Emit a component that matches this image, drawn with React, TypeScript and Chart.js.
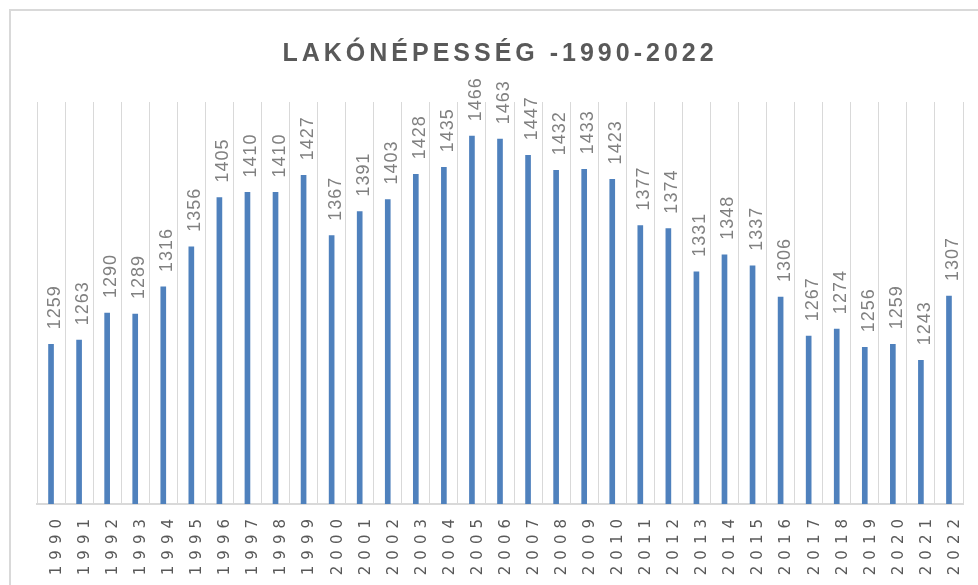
import React, { useEffect, useRef } from "react";
import { Chart, registerables } from "chart.js";

Chart.register(...registerables);

const years = [
  "1990", "1991", "1992", "1993", "1994", "1995", "1996", "1997", "1998", "1999",
  "2000", "2001", "2002", "2003", "2004", "2005", "2006", "2007", "2008", "2009",
  "2010", "2011", "2012", "2013", "2014", "2015", "2016", "2017", "2018", "2019",
  "2020", "2021", "2022",
];
const population = [
  1259, 1263, 1290, 1289, 1316, 1356, 1405, 1410, 1410, 1427,
  1367, 1391, 1403, 1428, 1435, 1466, 1463, 1447, 1432, 1433,
  1423, 1377, 1374, 1331, 1348, 1337, 1306, 1267, 1274, 1256,
  1259, 1243, 1307,
];
const titleText = "LAKÓNÉPESSÉG -1990-2022";

const spacingPlugin = {
  id: "spacingAndLabels",
  beforeDraw(chart: any) {
    chart.ctx.letterSpacing = "4px";
  },
  beforeDatasetsDraw(chart: any) {
    chart.ctx.letterSpacing = "0px";
  },
  afterDatasetsDraw(chart: any) {
    const ctx = chart.ctx;
    const meta = chart.getDatasetMeta(0);
    const data = chart.data.datasets[0].data;
    ctx.save();
    ctx.letterSpacing = "1px";
    ctx.font = "18px 'Liberation Sans', Arial, sans-serif";
    ctx.fillStyle = "#808080";
    ctx.textAlign = "left";
    ctx.textBaseline = "alphabetic";
    meta.data.forEach((bar: any, i: number) => {
      ctx.save();
      ctx.translate(bar.x + 9, bar.y - 15);
      ctx.rotate(-Math.PI / 2);
      ctx.fillText(String(data[i]), 0, 0);
      ctx.restore();
    });
    ctx.restore();
    ctx.letterSpacing = "6px";
  },
  afterDraw(chart: any) {
    chart.ctx.letterSpacing = "0px";
  },
};

export default function App() {
  const canvasRef = useRef<HTMLCanvasElement | null>(null);

  useEffect(() => {
    if (!canvasRef.current) return;
    const chart = new Chart(canvasRef.current, {
      type: "bar",
      data: {
        labels: years,
        datasets: [
          {
            data: population,
            backgroundColor: "#4f81bd",
            barThickness: 5,
          },
        ],
      },
      plugins: [spacingPlugin],
      options: {
        animation: false,
        responsive: false,
        maintainAspectRatio: false,
        layout: { padding: { left: 37, right: 15, top: 0, bottom: 0 } },
        plugins: {
          legend: { display: false },
          tooltip: { enabled: false },
          title: {
            display: true,
            text: titleText,
            color: "#595959",
            font: { family: "'Liberation Sans', Arial, sans-serif", size: 25, weight: "bold", lineHeight: 1.2 },
            padding: { top: 39, bottom: 33 },
          },
        },
        scales: {
          x: {
            grid: {
              display: true,
              offset: true,
              color: "#d9d9d9",
              lineWidth: 1,
              drawTicks: false,
            },
            border: { display: true, color: "#d9d9d9", width: 2 },
            ticks: {
              z: 1,
              autoSkip: false,
              minRotation: 90,
              maxRotation: 90,
              padding: 9,
              labelOffset: 6,
              color: "#595959",
              font: { family: "'DejaVu Sans', sans-serif", size: 15 },
            },
            afterFit(scale: any) {
              scale.height = 81;
            },
          },
          y: {
            display: false,
            min: 1100,
            max: 1500,
          },
        },
      },
    } as any);
    return () => chart.destroy();
  }, []);

  return (
    <div
      style={{
        position: "fixed",
        left: 0,
        top: 0,
        width: 978,
        height: 585,
        background: "#ffffff",
        overflow: "hidden",
      }}
    >
      <div
        style={{
          position: "absolute",
          left: 9,
          top: 9,
          width: 1100,
          height: 700,
          borderLeft: "2px solid #d9d9d9",
          borderTop: "2px solid #d9d9d9",
        }}
      />
      <canvas
        ref={canvasRef}
        width={978}
        height={585}
        style={{ position: "absolute", left: 0, top: 0, width: 978, height: 585 }}
      />
    </div>
  );
}
